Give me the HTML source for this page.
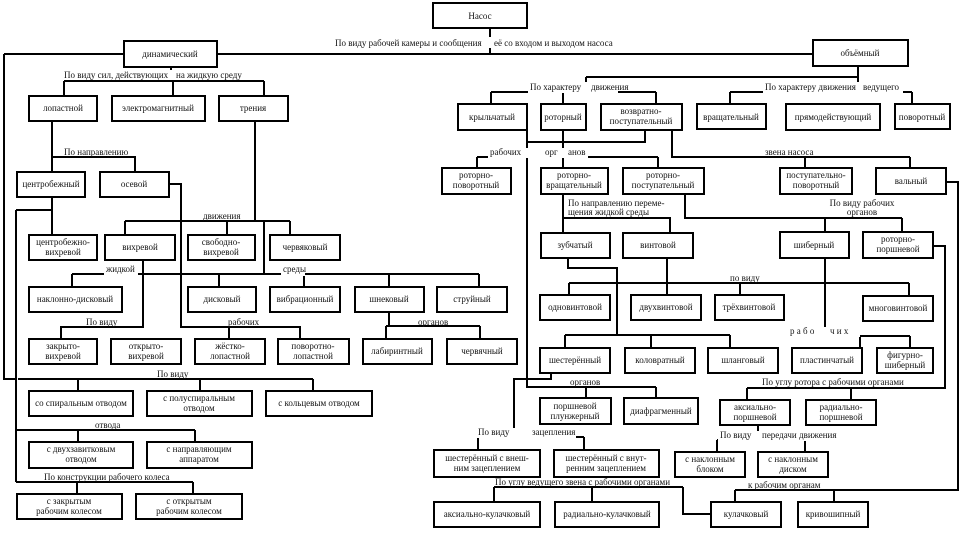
<!DOCTYPE html>
<html><head><meta charset="utf-8"><style>
html,body{margin:0;padding:0;background:#fff;}
svg{display:block}
text{font-family:"Liberation Serif","DejaVu Serif",serif;font-size:9px;fill:#111;text-anchor:middle}
.l{text-anchor:start}
</style></head><body>
<svg width="960" height="535" viewBox="0 0 960 535" xmlns="http://www.w3.org/2000/svg">
<g fill="none" stroke="#000" stroke-width="2">
<!-- top -->
<path d="M490 28V53M4 54H124M217 54H813M4 54V379H15M18 379H313M78 379V391M200 379V391M313 379V391"/>
<path d="M171 67V81M64 81H264M64 81V96M173 81V96M264 81V96"/>
<path d="M52 121V172M52 157H135V172M52 197V236M16 210H52M16 210V482M16 430H195M78 430V442M195 430V442M16 482H193M77 482V494M193 482V494"/>
<path d="M169 184H181V327H300V339M229 327V339"/>
<path d="M255 121V221M125 221H290M125 221V235M227 221V235M290 221V235M264 221V274"/>
<path d="M143 260V327H61V339M72 274H479M72 274V287M219 274V287M304 274V287M389 274V287M479 274V287"/>
<path d="M389 312V326M386 326H480M386 326V339M480 326V339"/>
<!-- right -->
<path d="M858 66V92M586 77H858M586 77V92M491 92H656M491 92V104M563 92V104M656 92V104M730 92H912M730 92V104M912 92V104"/>
<path d="M527 130V387H656M586 387V399M656 387V399M527 142H645V130M563 130V233M477 157H658M477 157V169M658 157V169"/>
<path d="M672 130V157H910M805 157V169M910 157V169M946 182H958V490H735M735 490V502M834 490V502"/>
<path d="M685 194V218H902M825 218V233M902 218V233M825 258V336H910M860 336V348M910 336V348M933 246H945V388H747M747 388V400M851 388V400"/>
<path d="M563 218H670V233M568 258V268H617V335M565 335H730M565 335V348M651 335V348M730 335V348"/>
<path d="M667 258V295M569 283H909M569 283V295M740 283V295M909 283V296"/>
<path d="M551 373V379H514V437M478 437H584M478 437V450M584 437V450M494 487H683M494 487V502M592 487V502M683 487V514H711"/>
<path d="M758 425V440M717 440H805M717 440V452M805 440V452"/>
</g>
<g fill="#fff" stroke="#000" stroke-width="2">
<rect x="433" y="3" width="94" height="25"/>
<rect x="124" y="41" width="93" height="26"/>
<rect x="813" y="40" width="95" height="26"/>
<rect x="29" y="96" width="68" height="25"/><rect x="112" y="96" width="93" height="25"/><rect x="219" y="96" width="69" height="25"/>
<rect x="17" y="172" width="68" height="25"/><rect x="100" y="172" width="69" height="25"/>
<rect x="29" y="235" width="68" height="25"/><rect x="105" y="235" width="70" height="25"/><rect x="188" y="235" width="67" height="25"/><rect x="270" y="235" width="70" height="25"/>
<rect x="29" y="287" width="93" height="25"/><rect x="188" y="287" width="68" height="25"/><rect x="270" y="287" width="70" height="25"/><rect x="355" y="287" width="69" height="25"/><rect x="437" y="287" width="70" height="25"/>
<rect x="29" y="339" width="68" height="25"/><rect x="111" y="339" width="70" height="25"/><rect x="195" y="339" width="70" height="25"/><rect x="278" y="339" width="71" height="25"/><rect x="363" y="339" width="69" height="25"/><rect x="447" y="339" width="70" height="25"/>
<rect x="29" y="391" width="104" height="25"/><rect x="147" y="391" width="105" height="25"/><rect x="266" y="391" width="106" height="25"/>
<rect x="29" y="442" width="104" height="26"/><rect x="147" y="442" width="105" height="26"/>
<rect x="17" y="494" width="105" height="25"/><rect x="136" y="494" width="106" height="25"/>
<rect x="458" y="104" width="69" height="26"/><rect x="541" y="104" width="45" height="26"/><rect x="601" y="104" width="81" height="26"/>
<rect x="697" y="104" width="69" height="25"/><rect x="786" y="104" width="94" height="26"/><rect x="895" y="104" width="55" height="25"/>
<rect x="442" y="168" width="69" height="26"/><rect x="541" y="168" width="67" height="26"/><rect x="623" y="168" width="81" height="26"/><rect x="780" y="168" width="72" height="26"/><rect x="876" y="168" width="70" height="26"/>
<rect x="541" y="233" width="69" height="25"/><rect x="623" y="233" width="70" height="25"/><rect x="780" y="232" width="69" height="26"/><rect x="863" y="232" width="70" height="26"/>
<rect x="540" y="295" width="70" height="25"/><rect x="631" y="295" width="70" height="25"/><rect x="715" y="295" width="69" height="25"/><rect x="863" y="296" width="70" height="25"/>
<rect x="540" y="348" width="70" height="25"/><rect x="625" y="348" width="70" height="25"/><rect x="708" y="348" width="70" height="25"/><rect x="792" y="348" width="70" height="25"/><rect x="877" y="348" width="56" height="25"/>
<rect x="540" y="398" width="71" height="26"/><rect x="624" y="398" width="74" height="26"/><rect x="720" y="400" width="70" height="25"/><rect x="806" y="400" width="70" height="25"/>
<rect x="434" y="450" width="106" height="27"/><rect x="554" y="450" width="105" height="27"/><rect x="675" y="452" width="70" height="25"/><rect x="758" y="452" width="70" height="25"/>
<rect x="434" y="502" width="106" height="25"/><rect x="555" y="502" width="104" height="25"/><rect x="711" y="502" width="70" height="25"/><rect x="798" y="502" width="70" height="25"/>
</g>
<g>
<text x="480" y="19">Насос</text>
<text x="170" y="57">динамический</text>
<text x="860" y="56">объёмный</text>
<text x="63" y="111">лопастной</text><text x="158" y="111">электромагнитный</text><text x="253" y="111">трения</text>
<text x="51" y="187">центробежный</text><text x="134" y="187">осевой</text>
<text x="63" y="245">центробежно-</text><text x="63" y="255">вихревой</text>
<text x="140" y="250">вихревой</text>
<text x="221" y="245">свободно-</text><text x="221" y="255">вихревой</text>
<text x="305" y="250">червяковый</text>
<text x="75" y="302">наклонно-дисковый</text><text x="222" y="302">дисковый</text><text x="305" y="302">вибрационный</text><text x="389" y="302">шнековый</text><text x="472" y="302">струйный</text>
<text x="63" y="349">закрыто-</text><text x="63" y="359">вихревой</text>
<text x="146" y="349">открыто-</text><text x="146" y="359">вихревой</text>
<text x="230" y="349">жёстко-</text><text x="230" y="359">лопастной</text>
<text x="313" y="349">поворотно-</text><text x="313" y="359">лопастной</text>
<text x="397" y="354">лабиринтный</text><text x="482" y="354">червячный</text>
<text x="81" y="406">со спиральным отводом</text>
<text x="199" y="401">с полуспиральным</text><text x="199" y="411">отводом</text>
<text x="319" y="406">с кольцевым отводом</text>
<text x="81" y="452">с двухзавитковым</text><text x="81" y="462">отводом</text>
<text x="199" y="452">с направляющим</text><text x="199" y="462">аппаратом</text>
<text x="69" y="504">с закрытым</text><text x="69" y="514">рабочим колесом</text>
<text x="189" y="504">с открытым</text><text x="189" y="514">рабочим колесом</text>
<text x="492" y="120">крыльчатый</text><text x="563" y="120">роторный</text>
<text x="641" y="114">возвратно-</text><text x="641" y="124">поступательный</text>
<text x="731" y="120">вращательный</text><text x="833" y="120">прямодействующий</text><text x="922" y="120">поворотный</text>
<text x="476" y="178">роторно-</text><text x="476" y="188">поворотный</text>
<text x="574" y="178">роторно-</text><text x="574" y="188">вращательный</text>
<text x="663" y="178">роторно-</text><text x="663" y="188">поступательный</text>
<text x="816" y="178">поступательно-</text><text x="816" y="188">поворотный</text>
<text x="911" y="184">вальный</text>
<text x="575" y="248">зубчатый</text><text x="658" y="248">винтовой</text><text x="814" y="248">шиберный</text>
<text x="898" y="242">роторно-</text><text x="898" y="252">поршневой</text>
<text x="575" y="310">одновинтовой</text><text x="666" y="310">двухвинтовой</text><text x="749" y="310">трёхвинтовой</text><text x="898" y="311">многовинтовой</text>
<text x="575" y="363">шестерённый</text><text x="660" y="363">коловратный</text><text x="743" y="363">шланговый</text><text x="827" y="363">пластинчатый</text>
<text x="905" y="358">фигурно-</text><text x="905" y="368">шиберный</text>
<text x="575" y="409">поршневой</text><text x="575" y="419">плунжерный</text>
<text x="661" y="414">диафрагменный</text>
<text x="755" y="410">аксиально-</text><text x="755" y="420">поршневой</text>
<text x="841" y="410">радиально-</text><text x="841" y="420">поршневой</text>
<text x="487" y="461">шестерённый с внеш-</text><text x="487" y="471">ним зацеплением</text>
<text x="606" y="461">шестерённый с внут-</text><text x="606" y="471">ренним зацеплением</text>
<text x="710" y="462">с наклонным</text><text x="710" y="472">блоком</text>
<text x="793" y="462">с наклонным</text><text x="793" y="472">диском</text>
<text x="487" y="517">аксиально-кулачковый</text><text x="607" y="517">радиально-кулачковый</text>
<text x="746" y="517">кулачковый</text><text x="833" y="517">кривошипный</text>
</g>
<g>
<rect x="330" y="37" width="290" height="11" fill="#fff"/>
<text class="l" x="335" y="46">По виду рабочей камеры и сообщения</text>
<text class="l" x="494" y="46">её со входом и выходом насоса</text>
<rect x="62" y="70" width="195" height="10" fill="#fff"/>
<text class="l" x="64" y="78">По виду сил, действующих</text>
<text class="l" x="176" y="78">на жидкую среду</text>
<text class="l" x="64" y="155">По направлению</text>
<text class="l" x="203" y="219">движения</text>
<rect x="104" y="268" width="34" height="8" fill="#fff"/>
<text class="l" x="106" y="272">жидкой</text>
<rect x="281" y="268" width="24" height="8" fill="#fff"/>
<text class="l" x="283" y="272">среды</text>
<text class="l" x="86" y="325">По виду</text>
<text class="l" x="228" y="325">рабочих</text>
<text class="l" x="418" y="325">органов</text>
<text class="l" x="157" y="377">По виду</text>
<text class="l" x="95" y="428">отвода</text>
<text class="l" x="44" y="480">По конструкции рабочего колеса</text>
<rect x="528" y="82" width="90" height="11" fill="#fff"/>
<text class="l" x="530" y="90">По характеру</text>
<text class="l" x="591" y="90">движения</text>
<rect x="763" y="82" width="140" height="11" fill="#fff"/>
<text class="l" x="765" y="90">По характеру движения</text>
<text class="l" x="863" y="90">ведущего</text>
<rect x="488" y="148" width="100" height="10" fill="#fff"/>
<text class="l" x="490" y="155">рабочих</text>
<text class="l" x="545" y="155">орг</text>
<text class="l" x="568" y="155">анов</text>
<text class="l" x="765" y="155">звена насоса</text>
<text class="l" x="568" y="206">По направлению переме-</text>
<text class="l" x="568" y="215">щения жидкой среды</text>
<text x="862" y="206">По виду рабочих</text>
<text x="862" y="215">органов</text>
<text class="l" x="730" y="281">по виду</text>
<rect x="790" y="327" width="70" height="10" fill="#fff"/>
<text class="l" x="790" y="334">р а б о</text>
<text class="l" x="830" y="334">ч и х</text>
<text class="l" x="570" y="385">органов</text>
<text class="l" x="762" y="385">По углу ротора с рабочими органами</text>
<rect x="476" y="428" width="100" height="10" fill="#fff"/>
<text class="l" x="478" y="435">По виду</text>
<text class="l" x="532" y="435">зацепления</text>
<rect x="718" y="431" width="120" height="10" fill="#fff"/>
<text class="l" x="720" y="438">По виду</text>
<text class="l" x="762" y="438">передачи движения</text>
<text class="l" x="495" y="485">По углу ведущего звена с рабочими органами</text>
<text class="l" x="748" y="488">к рабочим органам</text>
</g>
</svg>
</body></html>
